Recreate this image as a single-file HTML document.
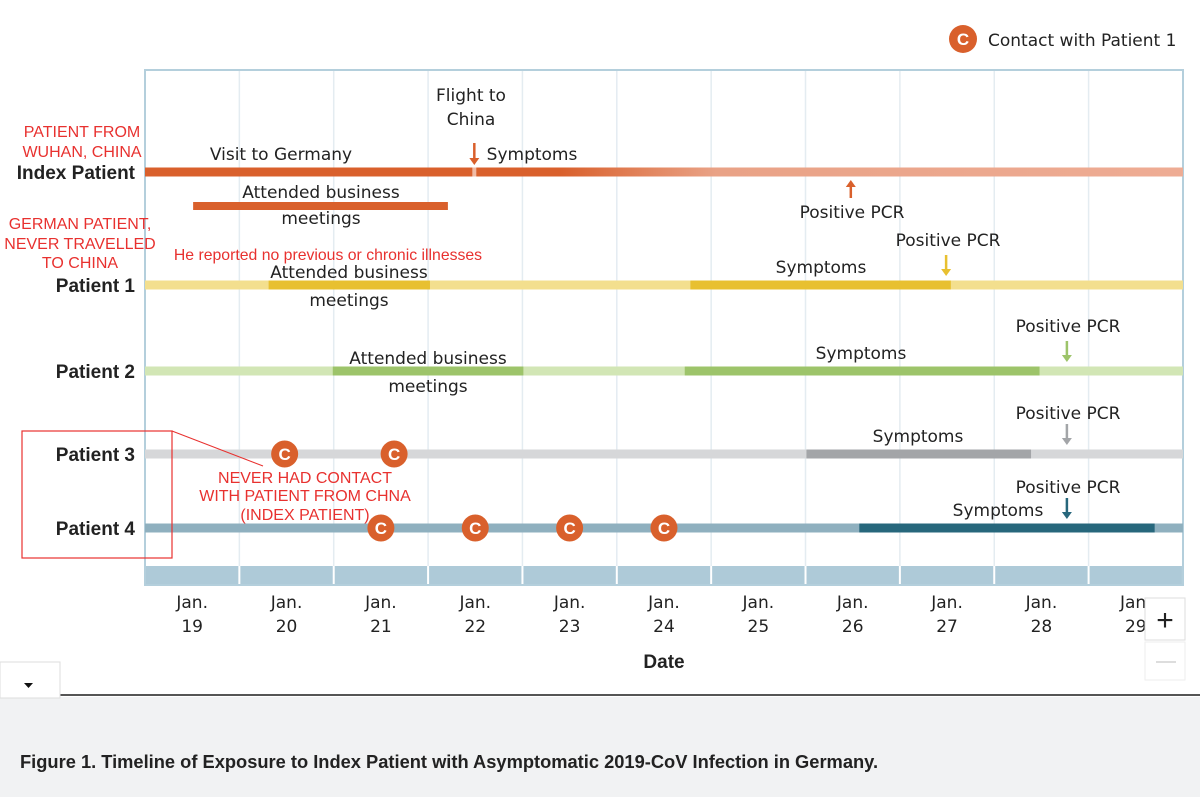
<!DOCTYPE html>
<html><head><meta charset="utf-8">
<style>
body{margin:0;width:1200px;height:797px;overflow:hidden;background:#fff;font-family:"Liberation Sans",sans-serif;}
svg{position:absolute;left:0;top:0}
</style></head>
<body>
<svg id="chart" width="1200" height="797" viewBox="0 0 1200 797" xmlns="http://www.w3.org/2000/svg">
<defs>
<linearGradient id="idxGrad" x1="0" x2="1" y1="0" y2="0">
<stop offset="0" stop-color="#d9602c"/><stop offset="0.40" stop-color="#d9602c"/><stop offset="0.55" stop-color="#e9a286"/><stop offset="1" stop-color="#eeac94"/>
</linearGradient>
</defs>
<rect x="0" y="697" width="1200" height="100" fill="#f1f2f3"/>
<line x1="60" y1="695" x2="1200" y2="695" stroke="#555" stroke-width="2"/>
<rect x="0" y="662" width="60" height="36" fill="#fff" stroke="#ddd"/>
<path d="M24 683 L33 683 L28.5 688 Z" fill="#111"/>
<text x="20" y="768" font-size="18.3" font-weight="bold" fill="#222">Figure 1. Timeline of Exposure to Index Patient with Asymptomatic 2019-CoV Infection in Germany.</text>
<g id="grid"></g>
<rect x="145" y="70" width="1038" height="515" fill="none" stroke="#b4cfdc" stroke-width="2"/>
<g id="marks"></g>
<g id="labels" font-family="'DejaVu Sans','Liberation Sans',sans-serif" font-size="17" fill="#222"></g>
<g>
<circle cx="963" cy="39" r="14" fill="#d9602c"/>
<text x="963" y="45" font-size="17" font-weight="bold" fill="#fff" text-anchor="middle">C</text>
<text x="988" y="46" font-family="'DejaVu Sans',sans-serif" font-size="17" fill="#222">Contact with Patient 1</text>
</g>
<rect x="1145" y="598" width="40" height="42" fill="#fff" stroke="#ddd"/>
<text x="1165" y="630" font-size="30" text-anchor="middle" fill="#222">+</text>
<rect x="1145" y="642" width="40" height="38" fill="#fff" stroke="#eee"/>
<line x1="1156" y1="662" x2="1176" y2="662" stroke="#ddd" stroke-width="2"/>
<g fill="#e8312f" font-size="16" text-anchor="middle">
<text x="82" y="137">PATIENT FROM</text><text x="82" y="157">WUHAN, CHINA</text>
<text x="80" y="229">GERMAN PATIENT,</text><text x="80" y="249">NEVER TRAVELLED</text><text x="80" y="268">TO CHINA</text>
<text x="328" y="260" font-size="15.8">He reported no previous or chronic illnesses</text>
<text x="305" y="483">NEVER HAD CONTACT</text><text x="305" y="501">WITH PATIENT FROM CHNA</text><text x="305" y="520">(INDEX PATIENT)</text>
<rect x="22" y="431" width="150" height="127" fill="none" stroke="#e8312f" stroke-width="1.2"/>
<line x1="172" y1="431" x2="263" y2="466" stroke="#e8312f" stroke-width="1"/>
</g>
</svg>
<script>
const days=[19,20,21,22,23,24,25,26,27,28,29];
const rows=["Index Patient","Patient 1","Patient 2","Patient 3","Patient 4"];
const rowY=[172,285,371,454,528];
const baseColors=["url(#idxGrad)","#f3df8e","#d2e6b5","#d6d7d9","#8fb0bf"];
const darkColors=["#d9602c","#e8c030","#9dc46a","#a3a5a8","#27677c"];
const segRow=[1,1,2,2,3,4];
const segStart=[20.31,24.78,20.99,24.72,26.01,26.57];
const segEnd=[22.02,27.54,23.01,28.48,28.39,29.7];
const pcrRow=[0,1,2,3,4];
const pcrDay=[26.48,27.49,28.77,28.77,28.77];
const contactRow=[3,3,4,4,4,4];
const contactDay=[20.48,21.64,21.5,22.5,23.5,24.5];
const meetStart=19.51, meetEnd=22.21, flightDay=22.49;
const X0=145,DW=94.36;
const x=d=>X0+DW*(d-19);
const NS="http://www.w3.org/2000/svg";
function mk(t,a,p){const e=document.createElementNS(NS,t);for(const k in a)e.setAttribute(k,a[k]);p.appendChild(e);return e;}
const grid=document.getElementById('grid'),marks=document.getElementById('marks'),labels=document.getElementById('labels');
days.forEach((d,i)=>{
 if(i>0&&i<11){const l=mk('line',{x1:x(d),x2:x(d),y1:70,y2:566,stroke:'#e4ecf1','stroke-width':1.5},grid);
 
 }
 const b=mk('rect',{x:x(d)+1,y:566,width:DW-2,height:18,fill:'#aecad8'},grid);
 
 
 const t=mk('text',{x:x(d+0.5),y:608,'text-anchor':'middle'},labels);
 
 
 t.textContent='Jan.';
 const t2=mk('text',{x:x(d+0.5),y:632,'text-anchor':'middle'},labels);
 
 
 t2.textContent=String(d);
});
const xt=mk('text',{x:664,y:668,'text-anchor':'middle','font-weight':'bold','font-family':'Liberation Sans','font-size':19},labels);


xt.textContent='Date';
rows.forEach((r,i)=>{
 const b=mk('rect',{x:x(19),y:rowY[i]-4.5,width:x(30)-x(19),height:9,fill:baseColors[i]},marks);
 
 
 const t=mk('text',{x:135,y:rowY[i]+7,'text-anchor':'end','font-weight':'bold','font-size':19,'font-family':'Liberation Sans'},labels);
 
 
 t.textContent=r;
});
mk('rect',{x:x(flightDay)-2,y:rowY[0]-4.5,width:4,height:9,fill:'#f0bba5'},marks);
const mb=mk('rect',{x:x(meetStart),y:202,width:x(meetEnd)-x(meetStart),height:8,fill:'#d9602c'},marks);


segRow.forEach((r,i)=>{
 const s=mk('rect',{x:x(segStart[i]),y:rowY[r]-4.5,width:x(segEnd[i])-x(segStart[i]),height:9,fill:darkColors[r]},marks);
 
 
});
function arrow(cx,y1,y2,col,name){
 const g=mk('g',{},marks);
 
 
 const dir=y2>y1?1:-1;
 mk('line',{x1:cx,x2:cx,y1:y1,y2:y2-dir*6,stroke:col,'stroke-width':2.5},g);
 mk('path',{d:`M${cx-5} ${y2-dir*7} L${cx+5} ${y2-dir*7} L${cx} ${y2} Z`,fill:col},g);
}
arrow(x(flightDay),143,165,'#d9602c','flight-arrow');
pcrRow.forEach((r,i)=>{
 if(r===0)arrow(x(pcrDay[i]),198,180,'#d9602c','pcr-arrow-'+i);
 else arrow(x(pcrDay[i]),rowY[r]-30,rowY[r]-9,darkColors[r],'pcr-arrow-'+i);
});
contactRow.forEach((r,i)=>{
 const g=mk('g',{},marks);
 
 
 mk('circle',{cx:x(contactDay[i]),cy:rowY[r],r:13.5,fill:'#d9602c'},g);
 const t=mk('text',{x:x(contactDay[i]),y:rowY[r]+6,'text-anchor':'middle','font-weight':'bold','font-size':17,fill:'#fff','font-family':'Liberation Sans'},g);
 t.textContent='C';
});
const txt=[["Flight to",471,101],["China",471,125],["Visit to Germany",281,160],["Symptoms",532,160],["Attended business",321,198],["meetings",321,224],
["Positive PCR",852,218],["Positive PCR",948,246],["Attended business",349,278],["meetings",349,306],["Symptoms",821,273],
["Positive PCR",1068,332],["Attended business",428,364],["meetings",428,392],["Symptoms",861,359],
["Positive PCR",1068,419],["Symptoms",918,442],["Positive PCR",1068,493],["Symptoms",998,516]];
txt.forEach((a,i)=>{
 const t=mk('text',{x:a[1],y:a[2],'text-anchor':'middle'},labels);
 
 
 t.textContent=a[0];
});
</script>
</body></html>
